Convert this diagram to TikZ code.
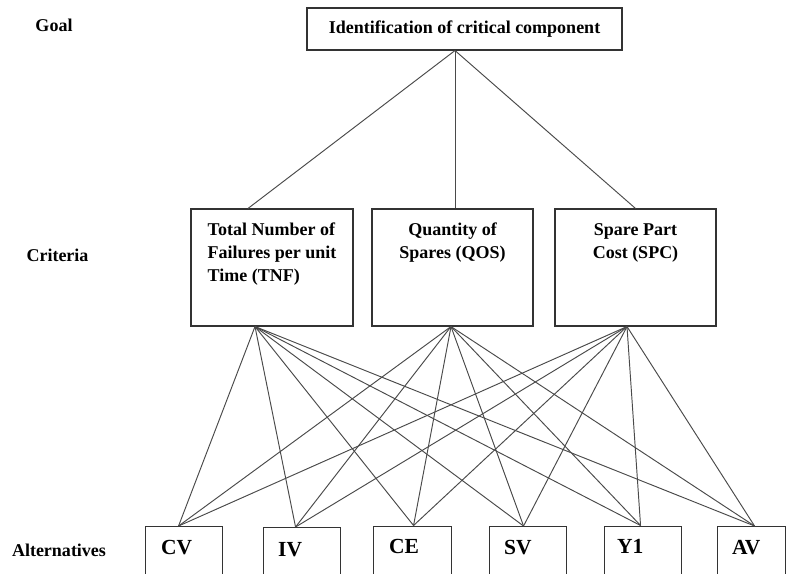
\documentclass[tikz,border=0pt]{standalone}
\usepackage{fontspec}
\setmainfont{Liberation Serif}
\definecolor{boxline}{HTML}{333333}
\definecolor{linkline}{HTML}{4A4A4A}
\tikzset{
  box/.style={draw=boxline, line width=1.1pt, inner sep=0pt},
  txt/.style={font=\bfseries\fontsize{18}{23}\selectfont, inner sep=0pt, text=black},
  alttxt/.style={font=\bfseries\fontsize{21.5}{26}\selectfont, inner sep=0pt, anchor=base west, text=black},
  link/.style={draw=linkline, line width=0.95pt},
}
\begin{document}
\begin{tikzpicture}[x=1pt,y=-1pt]
\useasboundingbox (0,0) rectangle (787,573);
\clip (0,0) rectangle (787,573);
\fill[white] (0,0) rectangle (787,573);

% level labels
\node[txt, anchor=base] (lgoal) at (54,31) {Goal};
\node[txt, anchor=base] (lcrit) at (57.5,261) {Criteria};
\node[txt, anchor=base] (lalt) at (59,556) {Alternatives};

% goal
\node[box, txt, minimum width=315pt, minimum height=42pt] (goal) at (464.5,29) {Identification of critical component};

% criteria boxes
\node[box, minimum width=162pt, minimum height=117pt] (tnf) at (272,267.5) {};
\node[box, minimum width=161pt, minimum height=117pt] (qos) at (452.5,267.5) {};
\node[box, minimum width=161pt, minimum height=117pt] (spc) at (635.5,267.5) {};
\node[txt, anchor=north, align=left] (tnft) at ([yshift=-14.5pt]tnf.north) {Total Number of\\Failures per unit\\Time (TNF)};
\node[txt, anchor=north, align=center] (qost) at ([yshift=-14.5pt]qos.north) {Quantity of\\Spares (QOS)};
\node[txt, anchor=north, align=center] (spct) at ([yshift=-14.5pt]spc.north) {Spare Part\\Cost (SPC)};

% alternative boxes (running past the lower edge)
\node[box, anchor=north west, minimum width=77pt, minimum height=80pt] (cv) at (145,526) {};
\node[box, anchor=north west, minimum width=77pt, minimum height=80pt] (iv) at (263,527) {};
\node[box, anchor=north west, minimum width=78pt, minimum height=80pt] (ce) at (373,525.5) {};
\node[box, anchor=north west, minimum width=77pt, minimum height=80pt] (sv) at (489,526) {};
\node[box, anchor=north west, minimum width=77pt, minimum height=80pt] (y1) at (604,525.5) {};
\node[box, anchor=north west, minimum width=68pt, minimum height=80pt] (av) at (717,526) {};
\node[alttxt] (cvt) at ([xshift=16pt,yshift=-28pt]cv.north west) {CV};
\node[alttxt] (ivt) at ([xshift=15pt,yshift=-29pt]iv.north west) {IV};
\node[alttxt] (cet) at ([xshift=16pt,yshift=-28pt]ce.north west) {CE};
\node[alttxt] (svt) at ([xshift=15pt,yshift=-28pt]sv.north west) {SV};
\node[alttxt] (y1t) at ([xshift=13pt,yshift=-28pt]y1.north west) {Y1};
\node[alttxt] (avt) at ([xshift=15pt,yshift=-28pt]av.north west) {AV};

% attachment points
\coordinate (goal-b) at ([xshift=-9.5pt]goal.south);
\coordinate (tnf-t) at ([xshift=-24pt]tnf.north);
\coordinate (qos-t) at ([xshift=2.5pt]qos.north);
\coordinate (spc-t) at (spc.north);
\coordinate (tnf-b) at ([xshift=-17pt]tnf.south);
\coordinate (qos-b) at ([xshift=-1.5pt]qos.south);
\coordinate (spc-b) at ([xshift=-8.5pt]spc.south);
\coordinate (cv-t) at ([xshift=-5.5pt]cv.north);
\coordinate (iv-t) at ([xshift=-6.5pt]iv.north);
\coordinate (ce-t) at ([xshift=1pt]ce.north);
\coordinate (sv-t) at ([xshift=-4.5pt]sv.north);
\coordinate (y1-t) at ([xshift=-2.5pt]y1.north);
\coordinate (av-t) at ([xshift=3pt]av.north);

% goal to criteria
\foreach \c in {tnf,qos,spc}
  \draw[link] (goal-b) -- (\c-t);

% criteria to alternatives
\foreach \c in {tnf,qos,spc}
  \foreach \a in {cv,iv,ce,sv,y1,av}
    \draw[link] (\c-b) -- (\a-t);
\end{tikzpicture}
\end{document}
